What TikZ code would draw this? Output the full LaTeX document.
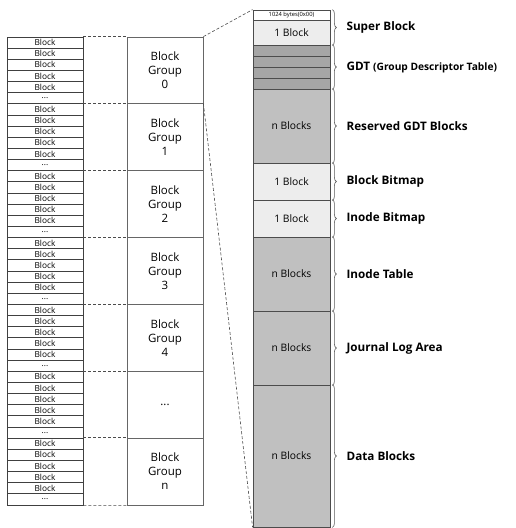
\documentclass[tikz,border=0pt]{standalone}
\usepackage{fontspec}
\setmainfont{Open Sans}
\usetikzlibrary{decorations.pathreplacing,calc}

\definecolor{lightblk}{HTML}{EDEDED}
\definecolor{gdtblk}{HTML}{A6A6A6}
\definecolor{nblk}{HTML}{C0C0C0}

\begin{document}
\begin{tikzpicture}[x=1pt, y=-1pt,
    cell/.style={rectangle, draw=black!75, line width=0.8pt, inner sep=0pt,
                 minimum width=76pt, minimum height=11.14pt,
                 font=\fontsize{8.3}{8.3}\selectfont},
    grp/.style={rectangle, draw=black!60, line width=0.8pt, inner sep=0pt,
                minimum width=76pt, minimum height=66.86pt,
                align=center, font=\fontsize{11.5}{14}\selectfont},
    area/.style={rectangle, draw=black!70, line width=0.8pt, inner sep=0pt,
                 minimum width=77pt, font=\fontsize{10.3}{11}\selectfont},
    zoomline/.style={densely dashed, black!70, line width=0.6pt},
    brc/.style={decorate, decoration={brace, amplitude=4pt}, black!65, line width=0.6pt},
    lbl/.style={anchor=west, inner sep=0pt, font=\bfseries\fontsize{11.7}{12}\selectfont}
]
\useasboundingbox (0,0) rectangle (516,528);

% block list of every group
\foreach \g in {0,...,6} {
  \foreach \i in {1,...,6} {
    \node[cell] (r\g-\i) at (45, {37+\g*66.86+(\i-0.5)*11.14})
      {\ifnum\i<6 Block\else ...\fi};
  }
}

% block groups
\foreach \g/\lab in {0/0, 1/1, 2/2, 3/3, 4/4, 6/n}
  \node[grp] (g\g) at (165, {37+(\g+0.5)*66.86}) {Block\\Group\\\lab};
\node[grp] (g5) at (165, {37+5.5*66.86}) {...};

\foreach \g in {0,...,6}
  \draw[zoomline] (r\g-1.north east) -- (g\g.north west);
\draw[zoomline] (r6-6.south east) -- (g6.south west);

% layout of one group
\node[area, fill=white, minimum height=10.7pt, font=\fontsize{5.8}{6}\selectfont]
  (ofs) at (291.5, 15.35) {1024 bytes(0x00)};
\node[area, fill=lightblk, minimum height=24.3pt] (sb) at (291.5, 32.85) {1 Block};
\foreach \k in {0,...,3}
  \node[area, fill=gdtblk, minimum height=11pt] (gdt\k) at (291.5, {50.5+11*\k}) {};
\node[area, fill=nblk, minimum height=74pt] (rsv) at (291.5, 126) {n Blocks};
\node[area, fill=lightblk, minimum height=37pt] (bbm) at (291.5, 181.5) {1 Block};
\node[area, fill=lightblk, minimum height=37pt] (ibm) at (291.5, 218.5) {1 Block};
\node[area, fill=nblk, minimum height=74pt] (itab) at (291.5, 274) {n Blocks};
\node[area, fill=nblk, minimum height=74pt] (jrn) at (291.5, 348) {n Blocks};
\node[area, fill=nblk, minimum height=142pt] (data) at (291.5, 456) {n Blocks};

\draw[zoomline] (g0.north east) -- (ofs.north west);
\draw[zoomline] (g1.north east) -- (data.south west);

% braces and names
\draw[brc] ([xshift=2pt]ofs.north east) -- ([xshift=2pt]sb.south east);
\draw[brc] ([xshift=2pt]gdt0.north east) -- ([xshift=2pt]gdt3.south east);
\draw[brc] ([xshift=2pt]rsv.north east) -- ([xshift=2pt]rsv.south east);
\draw[brc] ([xshift=2pt]bbm.north east) -- ([xshift=2pt]bbm.south east);
\draw[brc] ([xshift=2pt]ibm.north east) -- ([xshift=2pt]ibm.south east);
\draw[brc] ([xshift=2pt]itab.north east) -- ([xshift=2pt]itab.south east);
\draw[brc] ([xshift=2pt]jrn.north east) -- ([xshift=2pt]jrn.south east);
\draw[brc] ([xshift=2pt]data.north east) -- ([xshift=2pt]data.south east);

\node[lbl] (lsb) at ([xshift=16pt]$(ofs.north east)!0.5!(sb.south east)$) {Super Block};
\node[lbl] (lgdt) at ([xshift=16pt]$(gdt0.north east)!0.5!(gdt3.south east)$)
  {GDT {\fontsize{10.2}{11}\selectfont(Group Descriptor Table)}};
\node[lbl] (lrsv) at ([xshift=16pt]rsv.east) {Reserved GDT Blocks};
\node[lbl] (lbbm) at ([xshift=16pt]bbm.east) {Block Bitmap};
\node[lbl] (libm) at ([xshift=16pt]ibm.east) {Inode Bitmap};
\node[lbl] (litab) at ([xshift=16pt]itab.east) {Inode Table};
\node[lbl] (ljrn) at ([xshift=16pt]jrn.east) {Journal Log Area};
\node[lbl] (ldata) at ([xshift=16pt]data.east) {Data Blocks};
\end{tikzpicture}
\end{document}
